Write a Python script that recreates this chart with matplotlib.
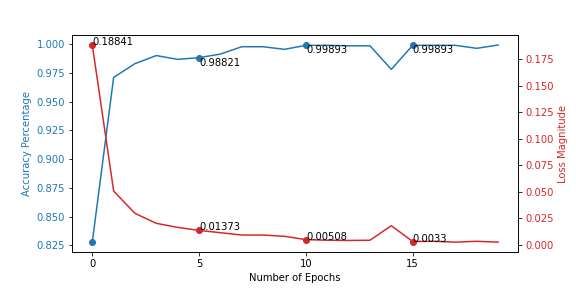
import numpy as np
import matplotlib
matplotlib.use("Agg")
import matplotlib.pyplot as plt

epochs = list(range(20))
accuracy = [0.82770, 0.97100, 0.98300, 0.99000, 0.98670, 0.98821, 0.99130, 0.99770,
            0.99770, 0.99540, 0.99893, 0.99890, 0.99850, 0.99850, 0.97800, 0.99893,
            0.99893, 0.99890, 0.99630, 0.99920]
loss = [0.18841, 0.05080, 0.02980, 0.02040, 0.01660, 0.01373, 0.01160, 0.00940,
        0.00940, 0.00820, 0.00508, 0.00450, 0.00430, 0.00450, 0.01820, 0.00330,
        0.00350, 0.00270, 0.00350, 0.00270]
marked = [0, 5, 10, 15]

fig, ax1 = plt.subplots(figsize=(8, 4), dpi=72)
fig.subplots_adjust(left=0.125, right=0.9, top=0.878, bottom=0.125)

ax1.plot(epochs, accuracy, color="tab:blue", marker="o", markevery=marked)
ax1.set_xlabel("Number of Epochs")
ax1.set_ylabel("Accuracy Percentage", color="tab:blue")
ax1.tick_params(axis="y", labelcolor="tab:blue")
ax1.set_xticks([0, 5, 10, 15])

ax2 = ax1.twinx()
ax2.plot(epochs, loss, color="tab:red", marker="o", markevery=marked)
ax2.set_ylabel("Loss Magnitude", color="tab:red")
ax2.tick_params(axis="y", labelcolor="tab:red")

for i in marked:
    if i > 0:
        ax1.text(epochs[i], accuracy[i], str(round(accuracy[i], 5)), va="top", ha="left")
    ax2.text(epochs[i], loss[i], str(round(loss[i], 5)), va="baseline", ha="left")

fig.savefig("out.png")
